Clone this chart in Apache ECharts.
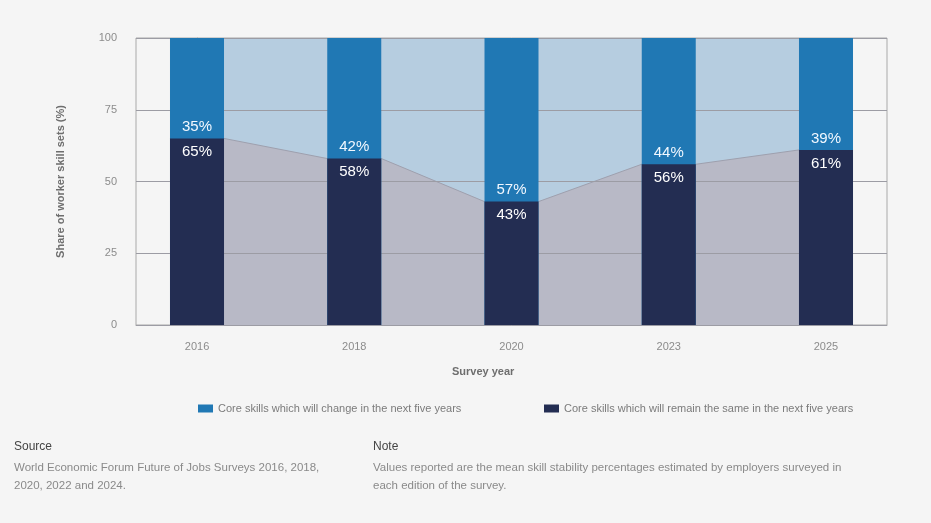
<!DOCTYPE html>
<html>
<head>
<meta charset="utf-8">
<script src="https://cdn.jsdelivr.net/npm/echarts@6/dist/echarts.min.js"></script>
<style>
html,body{margin:0;padding:0;background:#f5f5f5;}
#chart{width:931px;height:523px;}
</style>
</head>
<body>
<div id="chart"></div>
<script>
var years = ['2016', '2018', '2020', '2023', '2025'];
var remainValues = [65, 58, 43, 56, 61];
var changeValues = [35, 42, 57, 44, 39];
var yTicks = [0, 25, 50, 75, 100];
var changeName = 'Core skills which will change in the next five years';
var remainName = 'Core skills which will remain the same in the next five years';

var barHalf = 0.172;   // half bar width in axis units (bar width 54px)
var pad = 0.388;       // outer padding in axis units

function edgePoints(vals) {
  var pts = [];
  vals.forEach(function (v, i) {
    pts.push([i - barHalf, v]);
    pts.push([i + barHalf, v]);
  });
  return pts;
}
var idx = years.map(function (_, i) { return i; });
var totals = remainValues.map(function (v, i) { return v + changeValues[i]; });

var chart = echarts.init(document.getElementById('chart'));
var font = 'Liberation Sans, Arial, sans-serif';
chart.setOption({
  backgroundColor: '#f5f5f5',
  textStyle: { fontFamily: font },
  animation: false,
  grid: {
    left: 136, right: 44, top: 38, bottom: 198,
    show: true, borderColor: '#a9a9a9', borderWidth: 1, backgroundColor: 'transparent'
  },
  legend: [
    {
      data: [changeName], left: 193, top: 398, itemWidth: 15, itemHeight: 8,
      icon: 'rect', textStyle: { color: '#7b7b7b', fontSize: 11, fontFamily: font }
    },
    {
      data: [remainName], left: 539, top: 398, itemWidth: 15, itemHeight: 8,
      icon: 'rect', textStyle: { color: '#7b7b7b', fontSize: 11, fontFamily: font }
    }
  ],
  xAxis: {
    type: 'value', min: -pad, max: years.length - 1 + pad,
    splitLine: { show: false },
    axisLine: { show: true, lineStyle: { color: '#a9a9a9' } },
    axisTick: { show: false },
    axisLabel: {
      customValues: idx, color: '#8c8c8c', fontSize: 11, margin: 16,
      formatter: function (v) { return years[Math.round(v)]; }
    }
  },
  yAxis: {
    type: 'value', min: yTicks[0], max: yTicks[yTicks.length - 1], interval: 25, z: 3,
    name: 'Share of worker skill sets (%)', nameLocation: 'middle', nameGap: 70, nameRotate: 90,
    nameTextStyle: { color: '#6e6e6e', fontSize: 11, fontWeight: 'bold' },
    axisLine: { show: true, lineStyle: { color: '#a9a9a9' } },
    axisTick: { show: false },
    axisLabel: { color: '#8c8c8c', fontSize: 11, margin: 19 },
    splitLine: { show: true, lineStyle: { color: '#9c9ca4', width: 1 } }
  },
  graphic: [
    { type: 'text', left: 452, top: 366, style: { text: 'Survey year', fill: '#6e6e6e', font: 'bold 11px ' + font } },
    { type: 'text', left: 14, top: 441, style: { text: 'Source', fill: '#444444', font: '12px ' + font } },
    { type: 'text', left: 14, top: 459, style: { text: 'World Economic Forum Future of Jobs Surveys 2016, 2018,\n2020, 2022 and 2024.', fill: '#8a8a8a', font: '11.5px ' + font, lineHeight: 18 } },
    { type: 'text', left: 373, top: 441, style: { text: 'Note', fill: '#444444', font: '12px ' + font } },
    { type: 'text', left: 373, top: 459, style: { text: 'Values reported are the mean skill stability percentages estimated by employers surveyed in\neach edition of the survey.', fill: '#8a8a8a', font: '11.5px ' + font, lineHeight: 18 } }
  ],
  series: [
    {
      type: 'line', z: 1, symbol: 'none', silent: true,
      data: edgePoints(totals),
      lineStyle: { width: 0 },
      areaStyle: { color: '#b6cde0', opacity: 1 }
    },
    {
      type: 'line', z: 1, symbol: 'none', silent: true,
      data: edgePoints(remainValues),
      lineStyle: { color: '#9ea0ae', width: 1 },
      areaStyle: { color: '#b8b9c6', opacity: 1 }
    },
    {
      name: changeName, type: 'bar', z: 5, barWidth: 54, barGap: '-100%',
      itemStyle: { color: '#2078b4' },
      data: totals.map(function (v, i) { return [i, v]; })
    },
    {
      name: remainName, type: 'bar', z: 6, barWidth: 54, barGap: '-100%',
      itemStyle: { color: '#232d52' },
      data: remainValues.map(function (v, i) { return [i, v]; }),
      label: {
        show: true, position: 'insideTop', distance: 6, color: '#ffffff', fontSize: 15,
        fontWeight: 500,
        formatter: function (p) { return p.value[1] + '%'; }
      }
    },
    {
      type: 'scatter', z: 7, symbolSize: 0, silent: true,
      itemStyle: { opacity: 1 },
      data: remainValues.map(function (v, i) { return [i, v, changeValues[i]]; }),
      label: {
        show: true, position: 'top', distance: 4, color: '#f2f8ff', fontSize: 15,
        fontWeight: 500, opacity: 1,
        formatter: function (p) { return p.value[2] + '%'; }
      }
    }
  ]
});
</script>
</body>
</html>
